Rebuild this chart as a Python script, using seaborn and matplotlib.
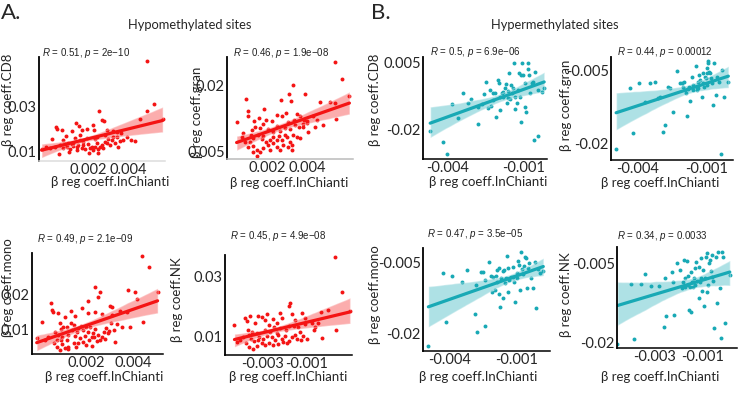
import pandas as pd
import matplotlib.pyplot as plt
import seaborn as sns

sns.set_style("white")
plt.rcParams['font.family'] = ['Lato', 'DejaVu Sans']
plt.rcParams['mathtext.fontset'] = 'custom'
plt.rcParams['mathtext.rm'] = 'Liberation Sans'
plt.rcParams['mathtext.it'] = 'Liberation Sans:italic'

RED = "#f41414"
TEAL = "#18a9b5"

# ---------------- data ----------------
# Hypomethylated sites
hypo_cd8_x = [0.00493, 0.0053, 0.00497, 0.00573, 0.0046, 0.00257, 0.00138, 0.00157, 0.00223, 0.00268,
              0.0028, 0.0004, 0.00043, 0.00072, 0.00168, 0.00197, 0.0023, 0.00118, 0.00018, 0.0009,
              0.00077, 0.00297, 0.00327, 0.00347, 0.00363, 0.00393, 0.00413, 0.00435, 0.00347, 0.0036,
              -0.00032, -0.0001, 0.00057, 0.00093, 0.00127, 0.00152, 0.00177, 0.00202, 0.00218, 0.00243,
              0.0026, 0.00285, 0.0031, 0.0011, 0.00143, 0.00185, 0.00227, 0.00252, 0.00268, 0.00077,
              0.0006, 0.00102, 0.00135, 0.0016, 0.00193, 0.00235, 0.00302, 0.00318, 0.00335, 0.00352,
              0.00377, 0.00207, 0.00252, 0.00168, 0.00123, 0.00107, 0.00235, 0.0021, 0.00277, 0.00177,
              0.00143, 0.00118, 0.00085, 0.00293, 0.00327, 0.0001, 0.00035, 0.00243, 0.00285, 0.0016]
hypo_cd8_y = [0.0506, 0.0312, 0.0284, 0.0247, 0.0247, 0.0281, 0.0227, 0.0216, 0.0221, 0.0242,
              0.0239, 0.0213, 0.0201, 0.0198, 0.0198, 0.0204, 0.0198, 0.0192, 0.0156, 0.0171,
              0.0153, 0.0198, 0.0195, 0.019, 0.0183, 0.0165, 0.0153, 0.015, 0.0165, 0.015,
              0.0113, 0.0124, 0.009, 0.0124, 0.0139, 0.0131, 0.0144, 0.0136, 0.0124, 0.0139,
              0.0124, 0.0146, 0.0131, 0.0112, 0.0109, 0.0112, 0.0109, 0.0112, 0.0131, 0.0116,
              0.0131, 0.0141, 0.0161, 0.0153, 0.0161, 0.0156, 0.0156, 0.0153, 0.0139, 0.0124,
              0.0153, 0.0097, 0.0094, 0.0119, 0.0127, 0.01, 0.0124, 0.0116, 0.0116, 0.0131,
              0.0124, 0.0136, 0.0136, 0.0141, 0.0165, 0.0116, 0.0124, 0.0165, 0.0175, 0.0175]

hypo_gran_x = [0.0054, 0.00573, 0.00612, 0.00332, 0.0031, 0.0039, 0.00095, 0.0027, 0.00318, 0.00465,
               0.00515, 0.0054, 0.00187, 0.00107, 0.00105, 0.00048, 0.00137, 0.00162, 0.00195, 0.00223,
               0.00248, 0.00273, 0.00295, 0.00348, 0.00365, 0.00307, 0.00335, 0.00385, 0.00402, 0.00448,
               0.00478, 0.0044, 0.00545, 0.00428, 0.00073, 0.00123, 0.0014, 0.00165, 0.00182, 0.00207,
               0.00228, 0.00252, 0.00265, 0.0029, 0.00315, 0.0034, 0.00362, 0.00378, 0.00398, 0.00352,
               0.00365, 0.00298, 0.00315, 0.00232, 0.00262, 0.00273, 0.00178, 0.00157, 0.00132, 0.00115,
               0.00107, 0.00132, 0.00148, 0.00165, 0.00182, 0.00207, 0.00232, 0.00248, 0.00265, 0.00282,
               0.00307, 0.00323, 0.00195, 0.00215, 0.00118, 0.0009, 0.00082, 0.00173, 0.0029, 0.00332,
               0.00407, 0.00152, 0.00132, 0.00323, 0.00382, 0.00215, 0.00248]
hypo_gran_y = [0.02524, 0.02135, 0.01762, 0.02001, 0.01792, 0.01792, 0.01687, 0.01665, 0.0165, 0.01612,
               0.01627, 0.0159, 0.01455, 0.01418, 0.01313, 0.01179, 0.01194, 0.01254, 0.01216, 0.01194,
               0.01328, 0.01306, 0.01366, 0.01343, 0.01306, 0.01179, 0.01216, 0.01216, 0.01194, 0.01216,
               0.01104, 0.01052, 0.01239, 0.01306, 0.00828, 0.00992, 0.01067, 0.0103, 0.01127, 0.01007,
               0.00955, 0.01082, 0.00977, 0.0103, 0.01007, 0.01104, 0.01067, 0.01127, 0.01157, 0.00843,
               0.00806, 0.00828, 0.00731, 0.00843, 0.00858, 0.00768, 0.00858, 0.0088, 0.00806, 0.00731,
               0.00619, 0.00634, 0.00544, 0.00507, 0.00581, 0.00656, 0.00708, 0.00619, 0.00544, 0.00656,
               0.00619, 0.00544, 0.00731, 0.00768, 0.0088, 0.00731, 0.00918, 0.00783, 0.0088, 0.0088,
               0.00955, 0.0041, 0.00507, 0.00656, 0.01052, 0.00544, 0.00768]

hypo_mono_x = [0.0044, 0.00468, 0.00505, 0.0038, 0.00409, 0.00444, 0.00416, 0.00238, 0.0026, 0.0025,
               0.00207, 0.00051, 0.00011, 0.00054, 0.00061, 0.00079, 0.00136, 0.00153, 0.00089, 0.0011,
               0.00181, 0.0021, 0.00238, 0.00269, 0.00302, 0.00309, 0.00345, 0.00373, 0.00352, 0.00387,
               0.00323, 0.00312, -0.0001, 0.00037, 0.00068, 0.00075, 0.00082, 0.00093, 0.00103, 0.00118,
               0.00136, 0.00139, 0.0015, 0.0016, 0.00167, 0.00179, 0.00189, 0.00198, 0.0021, 0.00217,
               0.00231, 0.00238, 0.00252, 0.0026, 0.00278, 0.00284, 0.00292, 0.00298, 0.00306, 0.0032,
               0.0033, 0.00065, 0.00075, 0.00089, 0.00099, 0.0011, 0.00125, 0.00118, 0.0015, 0.00156,
               0.00167, 0.00174, 0.00189, 0.00198, 0.00213, 0.00224, 0.00235, 0.00245, 0.00267, 0.00281,
               0.00099, 0.00125, 0.00153, 0.00196, 0.00224, 0.00122, 0.00093, 0.00025]
hypo_mono_y = [0.03088, 0.02784, 0.0205, 0.02116, 0.02069, 0.01211, 0.01859, 0.02212, 0.0205, 0.01907,
               0.01802, 0.01735, 0.01192, 0.01545, 0.01478, 0.01449, 0.01526, 0.01373, 0.01182, 0.01354,
               0.01592, 0.01449, 0.01497, 0.0143, 0.01659, 0.01621, 0.01526, 0.01497, 0.01049, 0.01049,
               0.00639, 0.01402, 0.00754, 0.00763, 0.00925, 0.00687, 0.0083, 0.00992, 0.01049, 0.01068,
               0.01182, 0.00973, 0.01116, 0.00925, 0.0102, 0.01087, 0.00973, 0.01049, 0.00925, 0.01068,
               0.00878, 0.00992, 0.0083, 0.00687, 0.00925, 0.0102, 0.00878, 0.00954, 0.01182, 0.00973,
               0.01144, 0.00592, 0.00496, 0.00401, 0.00573, 0.00449, 0.0042, 0.00687, 0.00592, 0.00496,
               0.00592, 0.00735, 0.00639, 0.00544, 0.00687, 0.00515, 0.00763, 0.00668, 0.00782, 0.00706,
               0.00782, 0.0083, 0.00801, 0.00801, 0.00782, 0.00477, 0.00687, 0.00687]

hypo_nk_x = [0.00028, 0.00058, 0.00096, -0.00036, -0.00002, 0.00031, -0.0003, -0.00177, -0.00184, -0.00222,
             -0.00283, -0.00253, -0.00237, -0.00166, -0.00121, -0.00108, -0.00324, -0.00359, -0.00381, -0.00374,
             -0.0043, -0.00336, -0.00306, -0.00293, -0.00271, -0.00215, -0.00154, -0.00108, -0.00078, -0.00048,
             -0.00139, -0.00161, -0.00063, -0.00369, -0.00348, -0.00328, -0.0029, -0.00268, -0.00248, -0.00222,
             -0.00196, -0.00184, -0.00131, -0.00116, -0.00101, -0.00066, -0.00389, -0.00366, -0.00354, -0.00339,
             -0.00318, -0.00298, -0.00283, -0.0026, -0.00245, -0.0023, -0.00215, -0.002, -0.00181, -0.00166,
             -0.00146, -0.00127, -0.00378, -0.00366, -0.00344, -0.00328, -0.00306, -0.00275, -0.00253, -0.0023,
             -0.00207, -0.00192, -0.00321, -0.0029, -0.00404, -0.00419, -0.00154, -0.00237]
hypo_nk_y = [0.03678, 0.02511, 0.01878, 0.01845, 0.019, 0.01234, 0.00956, 0.02122, 0.02033, 0.01811,
             0.01756, 0.01589, 0.01478, 0.01767, 0.01811, 0.01622, 0.017, 0.017, 0.01622, 0.01545,
             0.014, 0.01478, 0.01678, 0.01567, 0.014, 0.01622, 0.01567, 0.01434, 0.01478, 0.01456,
             0.01323, 0.01367, 0.01323, 0.01234, 0.01178, 0.01145, 0.01234, 0.01178, 0.01345, 0.01289,
             0.01234, 0.01367, 0.01178, 0.01034, 0.00922, 0.01234, 0.00989, 0.01067, 0.00922, 0.00878,
             0.00989, 0.00922, 0.01034, 0.00989, 0.009, 0.01067, 0.00922, 0.01034, 0.00878, 0.00989,
             0.00922, 0.009, 0.00811, 0.00656, 0.00589, 0.007, 0.00789, 0.00811, 0.00734, 0.00767,
             0.00845, 0.00789, 0.009, 0.00734, 0.009, 0.00845, 0.01067, 0.01145]

# Hypermethylated sites
hyper_cd8_x = [-0.00466, -0.00414, -0.00401, -0.00379, -0.00359, -0.00336, -0.00317, -0.00306, -0.00278, -0.00281,
               -0.00265, -0.00254, -0.00248, -0.00232, -0.00228, -0.00222, -0.00213, -0.00209, -0.00203, -0.00196,
               -0.00193, -0.00187, -0.0018, -0.00174, -0.0017, -0.00164, -0.00161, -0.00157, -0.00154, -0.00151,
               -0.00144, -0.00138, -0.00135, -0.00128, -0.00122, -0.00118, -0.00115, -0.00112, -0.00112, -0.00109,
               -0.00102, -0.00096, -0.00092, -0.00086, -0.00083, -0.00079, -0.00076, -0.00066, -0.00057, -0.00047,
               -0.00061, -0.00047, -0.00031, -0.00021, -0.0018, -0.00193, -0.00135, -0.00167, -0.00219, -0.00239,
               -0.00148, -0.00096, -0.0007]
hyper_cd8_y = [-0.02036, -0.02434, -0.02907, -0.01042, -0.01539, -0.00632, -0.0098, -0.00856, -0.01775, -0.01129,
               -0.01042, -0.00669, -0.00222, -0.00508, -0.01104, -0.00632, -0.00632, -0.01502, -0.00135, -0.00259,
               -0.01253, -0.00632, -0.00756, -0.0042, -0.00296, -0.00818, -0.00545, 0.00114, -0.00843, -0.00321,
               -0.00445, 0.00512, -0.01229, -0.01005, -0.00508, 0.00114, -0.00756, 0.00052, -0.01688, 0.00512,
               0.00052, -0.01129, -0.01316, 0.00487, 0.00263, 0.00052, -0.00632, -0.00197, 0.00176, -0.00508,
               -0.02372, -0.02223, -0.0057, -0.00445, -0.0057, -0.00756, -0.00756, -0.01005, -0.0088, -0.01191,
               -0.00632, -0.00259, -0.00259]

hyper_gran_x = [-0.0049, -0.0043, -0.00416, -0.0039, -0.00366, -0.00345, -0.00323, -0.00309, -0.00287, -0.0028,
                -0.00266, -0.00259, -0.00247, -0.0023, -0.00216, -0.00209, -0.00199, -0.00194, -0.0019, -0.00184,
                -0.0018, -0.00173, -0.00166, -0.00161, -0.00159, -0.00147, -0.00144, -0.00141, -0.00137, -0.00133,
                -0.0013, -0.00123, -0.00119, -0.00115, -0.00109, -0.00104, -0.00101, -0.00099, -0.00096, -0.00094,
                -0.0009, -0.00087, -0.00084, -0.0008, -0.00076, -0.0007, -0.00061, -0.00056, -0.00047, -0.00041,
                -0.00037, -0.00027, -0.00008, -0.00113, -0.00137, -0.00176, -0.00202, -0.00101, -0.00302]
hyper_gran_y = [-0.0211, -0.00857, -0.01771, -0.00769, -0.01141, -0.00755, -0.00749, -0.0106, -0.01751, -0.01615,
                -0.00837, -0.00871, -0.01344, -0.00512, -0.00769, -0.00769, -0.00735, -0.00904, -0.00972, -0.01432,
                -0.00891, -0.01128, -0.00634, -0.00803, -0.00904, -0.00417, -0.00837, -0.00904, -0.00735, -0.006,
                -0.00701, -0.0104, -0.00566, -0.00769, -0.00634, -0.00667, -0.00566, -0.00464, -0.00309, -0.00363,
                -0.00532, -0.00566, -0.00667, -0.00769, -0.01209, -0.00363, -0.01006, -0.00634, -0.00735, -0.02204,
                -0.00498, -0.0104, -0.00735, -0.00837, -0.00871, -0.00837, -0.00837, -0.00803, -0.0104]

hyper_mono_x = [-0.00497, -0.00432, -0.00419, -0.00392, -0.00347, -0.00322, -0.00288, -0.00277, -0.00283, -0.00261,
                -0.0025, -0.00243, -0.00243, -0.00225, -0.00217, -0.00209, -0.00198, -0.00194, -0.00188, -0.00182,
                -0.00179, -0.00176, -0.00173, -0.00164, -0.00161, -0.00158, -0.00149, -0.00143, -0.0014, -0.00138,
                -0.00134, -0.00128, -0.00119, -0.00113, -0.00108, -0.00101, -0.00094, -0.00089, -0.00086, -0.00083,
                -0.00079, -0.00074, -0.00068, -0.00064, -0.00059, -0.00056, -0.00049, -0.00044, -0.00038, -0.00026,
                -0.00019, -0.00014, -0.00004, 0.00003, 0.00018, -0.00213, -0.00153, -0.00101, -0.00191, -0.00119]
hyper_mono_y = [-0.0227, -0.00723, -0.01757, -0.00773, -0.00916, -0.00652, -0.016, -0.01985, -0.00973, -0.00702,
                -0.00702, -0.01843, -0.00866, -0.00474, -0.00773, -0.00794, -0.0108, -0.00773, -0.00652, -0.01172,
                -0.00602, -0.01436, -0.00816, -0.01258, -0.00673, -0.00652, -0.00816, -0.00345, -0.00616, -0.0113,
                -0.00866, -0.00794, -0.0058, -0.00916, -0.01329, -0.00816, -0.00459, -0.00545, -0.0108, -0.00274,
                -0.0063, -0.00744, -0.00559, -0.00367, -0.00388, -0.01044, -0.00616, -0.00509, -0.00816, -0.0103,
                -0.00474, -0.01472, -0.0063, -0.00709, -0.00673, -0.01115, -0.00937, -0.00723, -0.00901, -0.00794]

hyper_nk_x = [-0.00456, -0.00398, -0.00387, -0.00359, -0.0034, -0.00317, -0.00284, -0.00262, -0.00259, -0.00252,
              -0.00228, -0.00224, -0.0022, -0.00206, -0.00196, -0.00189, -0.00182, -0.00178, -0.00175, -0.00173,
              -0.00168, -0.00164, -0.00162, -0.00159, -0.00155, -0.0015, -0.00148, -0.00145, -0.00141, -0.00136,
              -0.00134, -0.00131, -0.00127, -0.00123, -0.00118, -0.00117, -0.00113, -0.00109, -0.00106, -0.00103,
              -0.00099, -0.00095, -0.00092, -0.00089, -0.00085, -0.00081, -0.00075, -0.00071, -0.00067, -0.00064,
              -0.00061, -0.00057, -0.00053, -0.00047, -0.00043, -0.00036, -0.00029, -0.00025, -0.0002, -0.00016,
              -0.00009, 0.00012, -0.00078, -0.00141]
hyper_nk_y = [-0.02039, -0.00887, -0.01943, -0.00887, -0.00695, -0.00925, -0.00925, -0.01706, -0.00778, -0.01501,
              -0.00663, -0.00842, -0.01482, -0.0049, -0.00618, -0.0097, -0.00842, -0.00426, -0.00778, -0.00938,
              -0.00445, -0.00733, -0.00906, -0.01386, -0.00938, -0.01418, -0.0065, -0.00855, -0.00938, -0.00765,
              -0.00573, -0.00906, -0.00458, -0.00829, -0.00554, -0.01162, -0.00842, -0.00778, -0.00394, -0.01021,
              -0.00618, -0.01303, -0.00778, -0.00362, -0.01034, -0.00298, -0.0049, -0.00426, -0.00637, -0.0033,
              -0.00746, -0.00829, -0.01738, -0.00362, -0.01258, -0.00266, -0.0097, -0.0193, -0.00279, -0.00362,
              -0.01642, -0.00714, -0.00906, -0.00842]

# ---------------- layout ----------------
W, H = 739, 407
fig = plt.figure(figsize=(W / 100, H / 100), dpi=100)


def fx(px):
    return px / W


def fy(py):
    return 1 - py / H


panels = [
    # data, color, box(l,t,r,b) in px, limits, ticks, labels and their pixel positions
    dict(x=hypo_cd8_x, y=hypo_cd8_y, c=RED, box=(39, 57, 165, 161),
         xlim=(-0.00045, 0.00585), ylim=(0.006, 0.0522),
         xt=[0.002, 0.004], xtl=["0.002", "0.004"], yt=[0.01, 0.03], ytl=["0.01", "0.03"],
         yl="β reg coeff.CD8", ylp=(8, 100), xlp=(110, 182),
         st=r"$R$ = 0.51, $p$ = 2e−10", stp=(42, 53), bcol="#dddddd"),
    dict(x=hypo_gran_x, y=hypo_gran_y, c=RED, box=(227, 57, 353, 159),
         xlim=(0.0, 0.0063), ylim=(0.00343, 0.02628),
         xt=[0.002, 0.004], xtl=["0.002", "0.004"], yt=[0.005, 0.02], ytl=["0.005", "0.02"],
         yl="β reg coeff.gran", ylp=(197, 112), xlp=(289, 183),
         st=r"$R$ = 0.46, $p$ = 1.9e−08", stp=(233, 53), bcol="#bbbbbb"),
    dict(x=hyper_cd8_x, y=hyper_cd8_y, c=TEAL, box=(423, 57, 547, 159),
         xlim=(-0.00494, -0.0001), ylim=(-0.03082, 0.00723),
         xt=[-0.004, -0.001], xtl=["-0.004", "-0.001"], yt=[0.005, -0.02], ytl=["0.005", "-0.02"],
         yl="β reg coeff.CD8", ylp=(375, 100), xlp=(488, 182),
         st=r"$R$ = 0.5, $p$ = 6.9e−06", stp=(430, 52), bcol="black"),
    dict(x=hyper_gran_x, y=hyper_gran_y, c=TEAL, box=(611, 57, 733, 160),
         xlim=(-0.00512, 0.00012), ylim=(-0.02325, -0.00234),
         xt=[-0.004, -0.001], xtl=["-0.004", "-0.001"], yt=[-0.005, -0.02], ytl=["-0.005", "-0.02"],
         yl="β reg coeff.gran", ylp=(566, 105), xlp=(660, 183),
         st=r"$R$ = 0.44, $p$ = 0.00012", stp=(617, 52), bcol="black"),
    dict(x=hypo_mono_x, y=hypo_mono_y, c=RED, box=(32, 253, 163, 354),
         xlim=(-0.0003, 0.00528), ylim=(0.00285, 0.03174),
         xt=[0.002, 0.004], xtl=["0.002", "0.004"], yt=[0.01, 0.02], ytl=["0.01", "0.02"],
         yl="β reg coeff.mono", ylp=(8, 288), xlp=(104, 377),
         st=r"$R$ = 0.49, $p$ = 2.1e−09", stp=(37, 239), bcol="black"),
    dict(x=hypo_nk_x, y=hypo_nk_y, c=RED, box=(225, 255, 352, 355),
         xlim=(-0.00473, 0.00105), ylim=(0.004, 0.0373),
         xt=[-0.003, -0.001], xtl=["-0.003", "-0.001"], yt=[0.01, 0.03], ytl=["0.01", "0.03"],
         yl="β reg coeff.NK", ylp=(177, 300), xlp=(288, 377),
         st=r"$R$ = 0.45, $p$ = 4.9e−08", stp=(230, 236), bcol="black"),
    dict(x=hyper_mono_x, y=hyper_mono_y, c=TEAL, box=(423, 248, 550, 351),
         xlim=(-0.00521, 0.00048), ylim=(-0.02385, -0.00181),
         xt=[-0.004, -0.001], xtl=["-0.004", "-0.001"], yt=[-0.005, -0.02], ytl=["-0.005", "-0.02"],
         yl="β reg coeff.mono", ylp=(375, 295), xlp=(478, 377),
         st=r"$R$ = 0.47, $p$ = 3.5e−05", stp=(427, 234), bcol="black"),
    dict(x=hyper_nk_x, y=hyper_nk_y, c=TEAL, box=(617, 247, 737, 348),
         xlim=(-0.00458, 0.00042), ylim=(-0.02115, -0.00176),
         xt=[-0.003, -0.001], xtl=["-0.003", "-0.001"], yt=[-0.005, -0.02], ytl=["-0.005", "-0.02"],
         yl="β reg coeff.NK", ylp=(566, 295), xlp=(660, 377),
         st=r"$R$ = 0.34, $p$ = 0.0033", stp=(617, 236), bcol="black"),
]

for p in panels:
    l, t, r, b = p["box"]
    ax = fig.add_axes([fx(l), fy(b), (r - l) / W, (b - t) / H])
    df = pd.DataFrame({"x": p["x"], "y": p["y"]})
    sns.regplot(data=df, x="x", y="y", ax=ax, color=p["c"], ci=95, seed=3,
                scatter_kws={"s": 8, "linewidths": 0, "alpha": 1},
                line_kws={"lw": 2.3})
    for coll in ax.collections[1:]:
        coll.set_alpha(0.35)
    ax.set_xlim(*p["xlim"])
    ax.set_ylim(*p["ylim"])
    ax.set_xticks(p["xt"], p["xtl"])
    ax.set_yticks(p["yt"], p["ytl"])
    ax.tick_params(length=0, pad=1.5, labelsize=10.5)
    ax.set_xlabel("")
    ax.set_ylabel("")
    for s in ["top", "right"]:
        ax.spines[s].set_visible(False)
    ax.spines["left"].set_color("black")
    ax.spines["left"].set_linewidth(1.3)
    ax.spines["bottom"].set_color(p["bcol"])
    ax.spines["bottom"].set_linewidth(1.1)
    ax.patch.set_alpha(0)
    fig.text(fx(p["ylp"][0]), fy(p["ylp"][1]), p["yl"], rotation=90,
             ha="center", va="center", fontsize=9.5)
    fig.text(fx(p["xlp"][0]), fy(p["xlp"][1]), "β reg coeff.InChianti",
             ha="center", va="center", fontsize=9.5)
    fig.text(fx(p["stp"][0]), fy(p["stp"][1]), p["st"], ha="left", va="center",
             fontsize=7, family="Liberation Sans", color="#222222")

fig.text(fx(1), fy(13), "A.", fontsize=16, ha="left", va="center")
fig.text(fx(371), fy(13), "B.", fontsize=16, ha="left", va="center")
fig.text(fx(190), fy(25), "Hypomethylated sites", fontsize=9.3, ha="center", va="center")
fig.text(fx(555), fy(25), "Hypermethylated sites", fontsize=9.3, ha="center", va="center")

fig.savefig("out.png", dpi=100)
